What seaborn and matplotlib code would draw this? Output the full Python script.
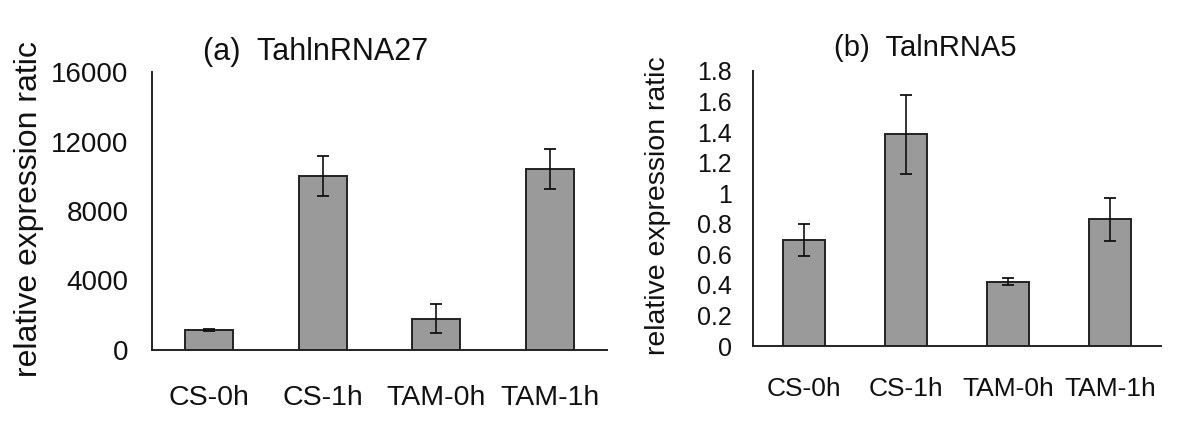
import matplotlib
matplotlib.use("Agg")
import matplotlib.pyplot as plt
import seaborn as sns
import pandas as pd

# ---- data ----
categories = ["CS-0h", "CS-1h", "TAM-0h", "TAM-1h"]
a_values = [1150, 10020, 1810, 10420]
a_errors = [60, 1140, 845, 1140]
b_values = [0.695, 1.385, 0.420, 0.828]
b_errors = [0.105, 0.260, 0.023, 0.143]
a_yticks = [0, 4000, 8000, 12000, 16000]
b_yticks = [0, 0.2, 0.4, 0.6, 0.8, 1.0, 1.2, 1.4, 1.6, 1.8]
b_yticklabels = ["0", "0.2", "0.4", "0.6", "0.8", "1", "1.2", "1.4", "1.6", "1.8"]
a_title = "(a)  TahlnRNA27"
b_title = "(b)  TalnRNA5"
ylabel = "relative expression ratic"

sns.set_style("white")
plt.rcParams["font.family"] = ["Liberation Sans", "DejaVu Sans"]

fig = plt.figure(figsize=(12, 4.4), dpi=100)
fig.patch.set_facecolor("white")

ax1 = fig.add_axes([152 / 1200, 1 - 350 / 440, 455 / 1200, (350 - 72) / 440])
ax2 = fig.add_axes([753 / 1200, 1 - 346 / 440, 408 / 1200, (346 - 71) / 440])


def draw(ax, values, errors, yticks, yticklabels, ymax, xfs, yfs, xpad, ypad):
    df = pd.DataFrame({"cat": categories, "val": values})
    sns.barplot(data=df, x="cat", y="val", ax=ax, color="#9a9a9a",
                saturation=1, edgecolor="#222222", linewidth=1.4,
                width=0.42, errorbar=None)
    ax.errorbar(x=list(range(len(categories))), y=values, yerr=errors,
                fmt="none", ecolor="#111111", elinewidth=1.2,
                capsize=4, capthick=1.3)
    ax.set_xlim(-0.5, 3.5)
    ax.set_ylim(0, ymax)
    ax.set_yticks(yticks)
    ax.set_yticklabels(yticklabels)
    ax.set_xlabel("")
    ax.set_ylabel("")
    for s in ["top", "right"]:
        ax.spines[s].set_visible(False)
    for s in ["left", "bottom"]:
        ax.spines[s].set_linewidth(1.4)
        ax.spines[s].set_color("#222222")
    ax.set_xticks([0.5, 1.5, 2.5, 3.5], minor=True)
    ax.tick_params(axis="x", which="major", length=0, labelsize=xfs,
                   pad=xpad, colors="#111111")
    ax.tick_params(axis="x", which="minor", direction="in", length=6,
                   width=1.3, color="#222222")
    ax.tick_params(axis="y", direction="in", length=6, width=1.3,
                   color="#222222", labelsize=yfs, pad=ypad,
                   labelcolor="#111111")
    ax.patch.set_alpha(0)


draw(ax1, a_values, a_errors, a_yticks, [str(v) for v in a_yticks], 16000,
     20.5, 20, 25, 17)
draw(ax2, b_values, b_errors, b_yticks, b_yticklabels, 1.8,
     19, 18, 22, 15)

fig.text(316 / 1200, 1 - 60 / 440, a_title, ha="center", va="baseline",
         fontsize=22, color="#111111")
fig.text(925 / 1200, 1 - 56 / 440, b_title, ha="center", va="baseline",
         fontsize=21, color="#111111")
fig.text(29 / 1200, 1 - 209 / 440, ylabel, ha="center", va="center",
         rotation=90, fontsize=23, color="#111111")
fig.text(658 / 1200, 1 - 206 / 440, ylabel, ha="center", va="center",
         rotation=90, fontsize=20.5, color="#111111")

fig.savefig("out.png", dpi=100, facecolor="white")
